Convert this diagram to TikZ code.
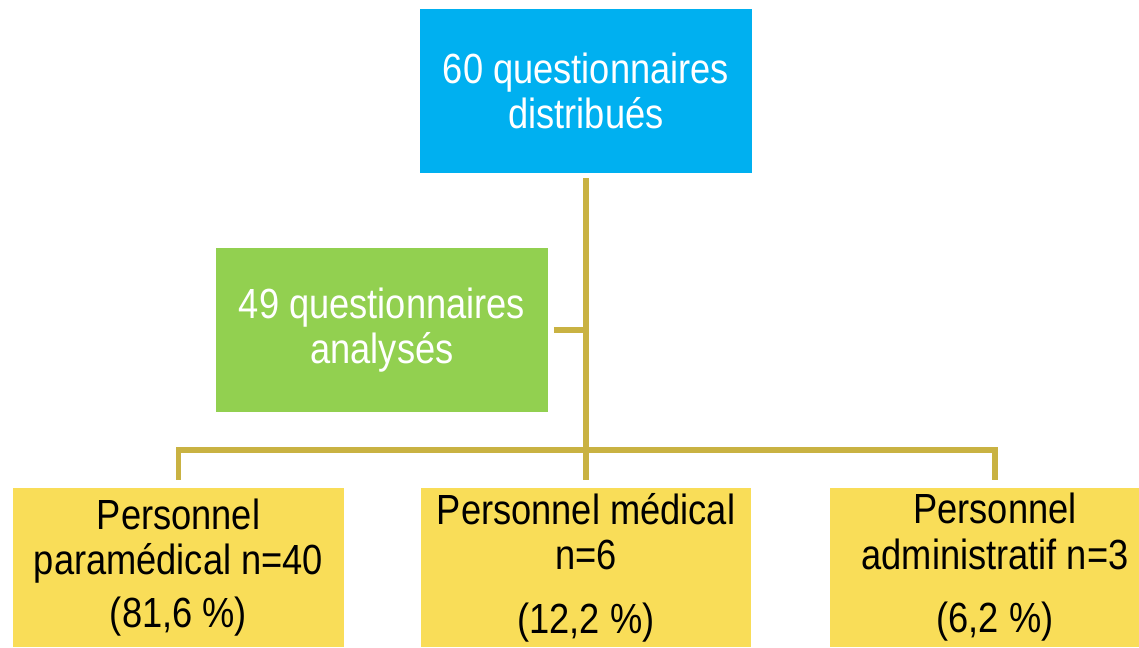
\documentclass[tikz,border=0pt]{standalone}
\usepackage{fontspec}
\setmainfont[FakeStretch=0.86]{Liberation Sans}
\usetikzlibrary{calc}
\definecolor{blueBox}{RGB}{0,176,240}
\definecolor{greenBox}{RGB}{146,208,80}
\definecolor{yellowBox}{RGB}{249,221,88}
\definecolor{goldLine}{RGB}{201,178,66}

\begin{document}
\begin{tikzpicture}[x=0.02cm, y=-0.02cm,
        box_style/.style={rectangle, minimum width=6.66cm, minimum height=3.28cm, align=center, inner sep=0pt, font=\fontsize{24}{26}\selectfont},
        top_style/.style={box_style, text=white},
        staff_style/.style={box_style, fill=yellowBox, minimum width=6.62cm, minimum height=3.18cm, text=black},
        edge_style/.style={draw=goldLine, line width=3pt, shorten <=0.1cm, shorten >=0.16cm}]
        \useasboundingbox (0,0) rectangle (1139,647);

        \node [top_style, fill=blueBox](n1) at (586,91) {60 questionnaires\\distribués};
        \node [top_style, fill=greenBox](n2) at (382,330) {49 questionnaires\\analysés};
        \node [staff_style](n3) at (178.5,567.5) {Personnel\\paramédical n=40\\[4pt](81,6 \%)};
        \node [staff_style](n4) at (586,567.5) {Personnel médical\\n=6\\[10pt](12,2 \%)};
        \node [staff_style](n5) at (995,567.5) {Personnel\\administratif n=3\\[10pt](6,2 \%)};
        \coordinate (hub) at (586,450);

        \draw [edge_style] (n1.south) -- (n4.north);
        \draw [edge_style, shorten <=0.16cm] (n3.north) |- (hub) -| (n5.north);
        \draw [edge_style, shorten >=0pt] (n2.east) -- (n2.east -| n1.south);
        \end{tikzpicture}
\end{document}
